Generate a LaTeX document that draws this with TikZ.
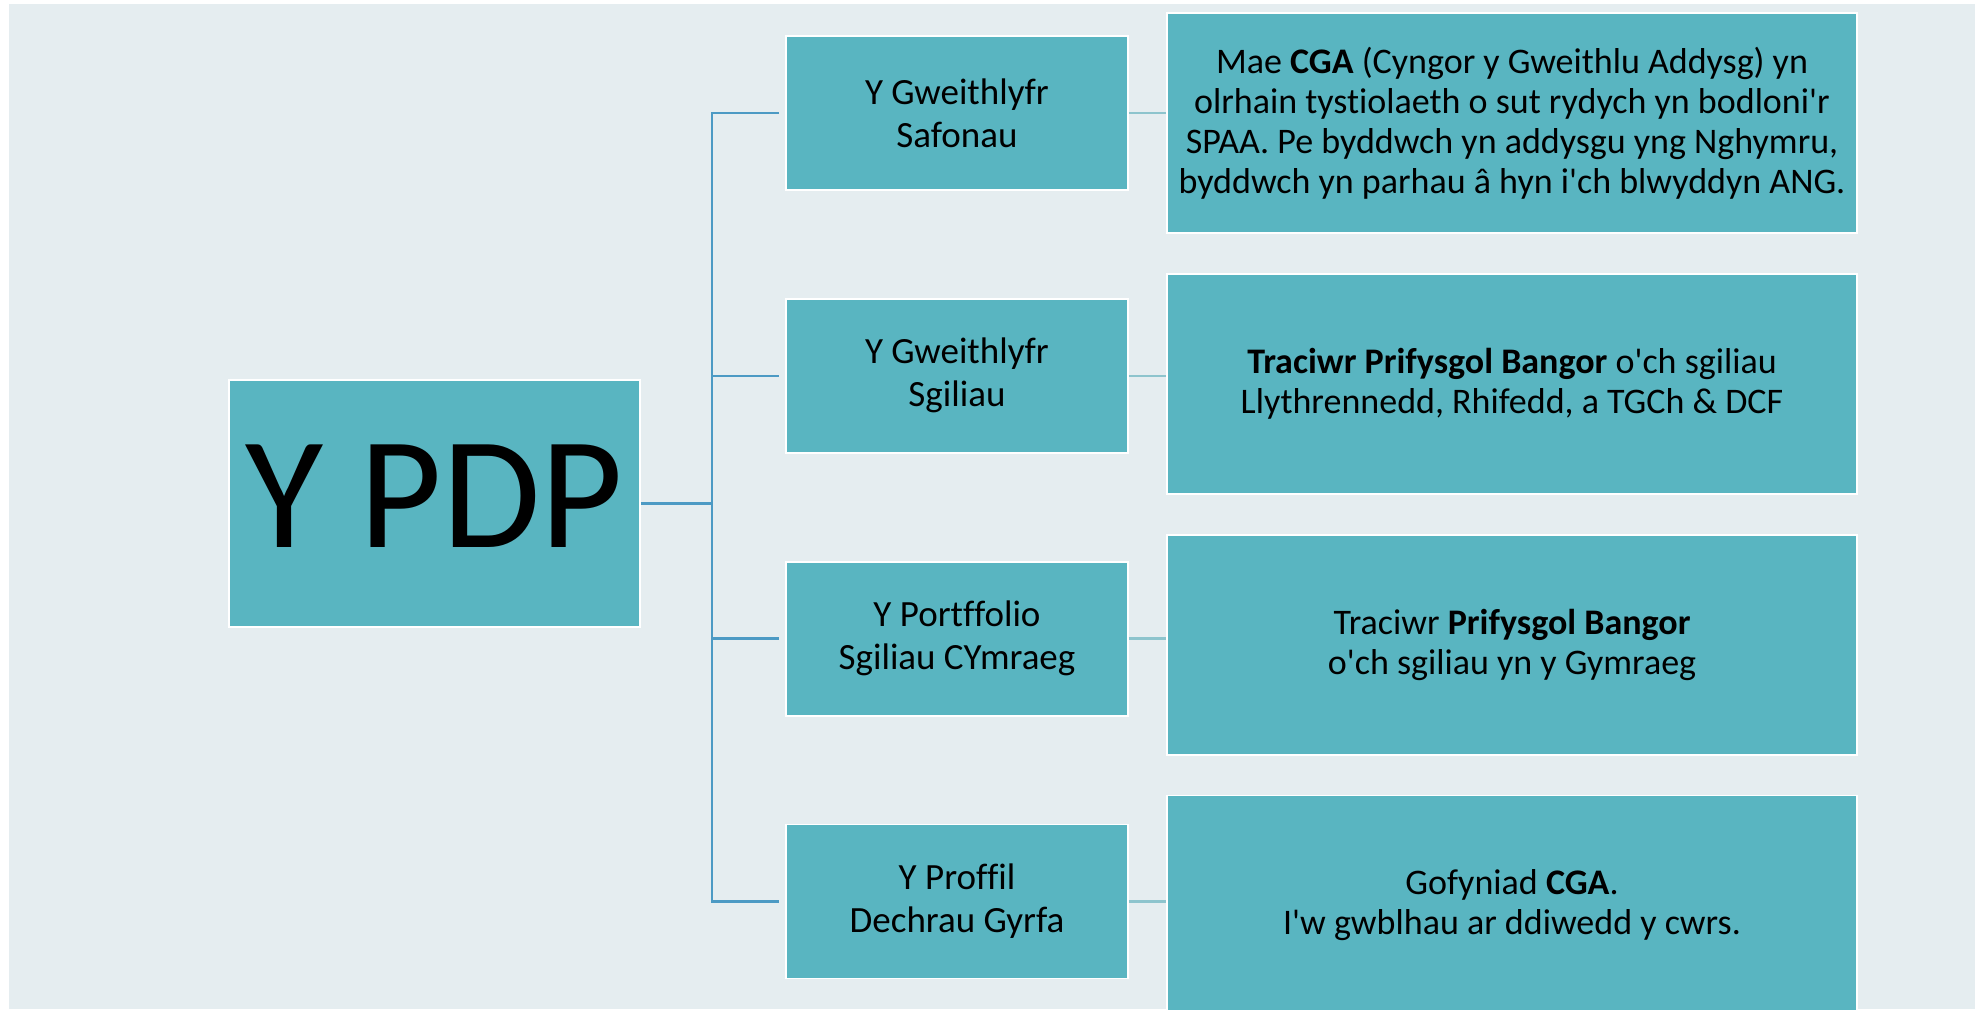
\documentclass[tikz,border=0pt]{standalone}
\usepackage{fontspec}
\setmainfont{Carlito}[Ligatures={TeXOff,CommonOff}]
\usetikzlibrary{positioning}
\definecolor{pdpback}{HTML}{E5EDF0}
\definecolor{pdpteal}{HTML}{59B5C1}
\definecolor{pdpline}{HTML}{4C9AC4}
\definecolor{pdplink}{HTML}{8DC4CD}

\begin{document}
\begin{tikzpicture}[x=1pt,y=1pt,
  box/.style={rectangle,fill=pdpteal,draw=white,line width=0.9pt,align=center,inner sep=0pt},
  root node/.style={box,minimum width=205.5pt,minimum height=123.5pt,font=\fontsize{80}{80}\selectfont,text depth=7.5pt},
  mid node/.style={box,minimum width=171pt,minimum height=77pt,font=\fontsize{18.5}{21.5}\selectfont},
  note node/.style={box,minimum width=345pt,minimum height=110pt,font=\fontsize{18}{20}\selectfont},
  trunk/.style={draw=pdpline,line width=1.3pt},
  link/.style={draw=pdplink,line width=1.2pt}]

    \useasboundingbox (0,0) rectangle (988.5,504.5);
    \fill[pdpback] (4.5,0) rectangle (987.5,502.5);

    \node[root node] (pdp) at (217.25,252.75) {Y PDP};

    \node[mid node] (m1) at (478.5,448) {Y Gweithlyfr\\Safonau};
    \node[mid node] (m2) [below=53.5pt of m1] {Y Gweithlyfr\\Sgiliau};
    \node[mid node] (m3) [below=53.5pt of m2] {Y Portffolio\\Sgiliau CYmraeg};
    \node[mid node] (m4) [below=53.5pt of m3] {Y Proffil\\Dechrau Gyrfa};

    \node[note node] (n1) at (756,443) {Mae \textbf{CGA} (Cyngor y Gweithlu Addysg) yn\\olrhain tystiolaeth o sut rydych yn bodloni'r\\SPAA. Pe byddwch yn addysgu yng Nghymru,\\byddwch yn parhau â hyn i'ch blwyddyn ANG.};
    \node[note node] (n2) [below=19.5pt of n1] {\textbf{Traciwr Prifysgol Bangor} o'ch sgiliau\\Llythrennedd, Rhifedd, a TGCh \& DCF};
    \node[note node] (n3) [below=19.5pt of n2] {Traciwr \textbf{Prifysgol Bangor}\\o'ch sgiliau yn y Gymraeg};
    \node[note node] (n4) [below=19.5pt of n3] {Gofyniad \textbf{CGA}.\\I'w gwblhau ar ddiwedd y cwrs.};

    \draw[trunk] (pdp.east) -- ++(35.5,0) coordinate (fork);
    \draw[trunk, shorten <=3pt, shorten >=3pt] (m1.west) -- (fork |- m1.west) -- (fork |- m4.west) -- (m4.west);
    \draw[trunk, shorten >=3pt] (fork |- m2.west) -- (m2.west);
    \draw[trunk, shorten >=3pt] (fork |- m3.west) -- (m3.west);

    \draw[link] (m1.east) -- (m1.east -| n1.west);
    \draw[link] (m2.east) -- (m2.east -| n2.west);
    \draw[link] (m3.east) -- (m3.east -| n3.west);
    \draw[link] (m4.east) -- (m4.east -| n4.west);
\end{tikzpicture}
\end{document}
